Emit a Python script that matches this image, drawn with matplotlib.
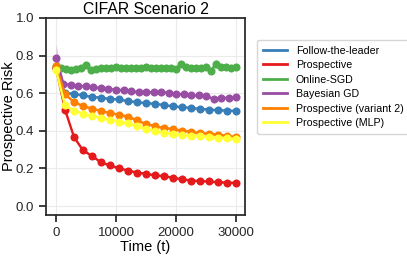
import numpy as np
import matplotlib
matplotlib.use("Agg")
import matplotlib.pyplot as plt

plt.rcParams['font.family'] = ['Liberation Sans', 'DejaVu Sans']

# ---- data ----
t_1500 = list(range(0, 30001, 1500))
t_green = list(np.linspace(0, 30000, 37))
t_purple = list(range(0, 30001, 1250))

ftl = [0.735, 0.600, 0.598, 0.588, 0.581, 0.576, 0.570, 0.567, 0.558, 0.553, 0.547,
       0.544, 0.537, 0.531, 0.526, 0.522, 0.517, 0.513, 0.510, 0.508, 0.506]
prosp = [0.735, 0.513, 0.367, 0.296, 0.267, 0.232, 0.216, 0.201, 0.189, 0.178, 0.172,
         0.163, 0.160, 0.150, 0.143, 0.136, 0.133, 0.131, 0.127, 0.125, 0.123]
sgd = [0.745, 0.736, 0.727, 0.722, 0.727, 0.736, 0.750, 0.722, 0.727, 0.736, 0.736,
       0.736, 0.739, 0.736, 0.733, 0.736, 0.736, 0.736, 0.739, 0.733, 0.733, 0.735,
       0.735, 0.734, 0.730, 0.757, 0.738, 0.733, 0.733, 0.735, 0.738, 0.720, 0.758,
       0.742, 0.738, 0.735, 0.737]
bgd = [0.785, 0.648, 0.645, 0.640, 0.636, 0.632, 0.627, 0.622, 0.619, 0.616, 0.611,
       0.606, 0.604, 0.606, 0.606, 0.603, 0.597, 0.594, 0.588, 0.588, 0.586, 0.570,
       0.575, 0.576, 0.578]
prosp_v2 = [0.745, 0.595, 0.553, 0.532, 0.518, 0.506, 0.495, 0.486, 0.476, 0.455, 0.437,
            0.425, 0.415, 0.410, 0.401, 0.396, 0.388, 0.385, 0.380, 0.374, 0.367]
prosp_mlp = [0.725, 0.535, 0.508, 0.490, 0.481, 0.469, 0.458, 0.449, 0.440, 0.425, 0.412,
             0.400, 0.390, 0.384, 0.377, 0.374, 0.370, 0.366, 0.363, 0.361, 0.358]

# error half-widths (mostly small)
sgd_err = [0.01] * 37
sgd_err[6] = 0.015
sgd_err[25] = 0.015
sgd_err[31] = 0.012
sgd_err[32] = 0.025
bgd_err = [0.075, 0.015] + [0.008] * 23
small_err = [0.02] + [0.006] * 20

labels = ["Follow-the-leader", "Prospective", "Online-SGD", "Bayesian GD",
          "Prospective (variant 2)", "Prospective (MLP)"]
colors = ["#377eb8", "#e41a1c", "#4daf4a", "#984ea3", "#ff7f00", "#ffff33"]

series = [
    (t_1500, ftl, small_err),
    (t_1500, prosp, small_err),
    (t_green, sgd, sgd_err),
    (t_purple, bgd, bgd_err),
    (t_1500, prosp_v2, small_err),
    (t_1500, prosp_mlp, small_err),
]

fig = plt.figure(figsize=(4.07, 2.57), dpi=100)
ax = fig.add_axes([0.113, 0.163, 0.489, 0.767])

for (t, y, e), lab, c in zip(series, labels, colors):
    t = np.asarray(t, float)
    y = np.asarray(y, float)
    e = np.asarray(e, float)
    ax.fill_between(t, y - e, y + e, color=c, alpha=0.3, lw=0)
    ax.plot(t, y, color=c, lw=1.7, marker='o', ms=5.8, mew=0, label=lab)

ax.set_xlim(-1667, 31500)
ax.set_ylim(-0.048, 1.0)
ax.set_xticks([0, 10000, 20000, 30000])
ax.set_yticks([0.0, 0.2, 0.4, 0.6, 0.8, 1.0])
ax.set_yticklabels(["0.0", "0.2", "0.4", "0.6", "0.8", "1.0"])
ax.grid(True, color="#ebebeb", lw=0.8)
ax.set_axisbelow(True)
for s in ax.spines.values():
    s.set_color("#262626")
    s.set_linewidth(1.25)
ax.tick_params(direction='out', length=5, width=1.25, labelsize=9.5, colors="#262626")
ax.set_xlabel("Time (t)", fontsize=10.5, labelpad=1)
ax.set_ylabel("Prospective Risk", fontsize=10.5, labelpad=0)
ax.set_title("CIFAR Scenario 2", fontsize=11.3, pad=3)

leg = ax.legend(loc='upper left', bbox_to_anchor=(1.06, 0.89), fontsize=7.7,
                frameon=True, handlelength=2.3, handletextpad=0.8,
                borderpad=0.55, labelspacing=0.42, borderaxespad=0)
for h in leg.get_lines():
    h.set_marker('')
    h.set_linewidth(2)
leg.get_frame().set_edgecolor("#cccccc")

fig.savefig("out.png", dpi=100)
